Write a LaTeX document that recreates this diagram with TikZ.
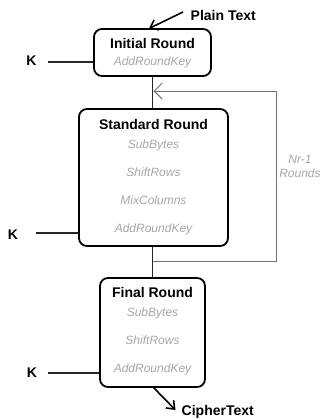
\documentclass[tikz,border=0pt]{standalone}
\usepackage{fontspec}
\setmainfont{Liberation Sans}
\usetikzlibrary{arrows.meta}
\definecolor{itemgray}{HTML}{A6A6A6}
\definecolor{loopgray}{HTML}{707070}
\tikzset{
  roundbox/.style={draw=black, line width=1.8bp, rounded corners=8bp, inner sep=0pt},
  titletext/.style={font=\bfseries\fontsize{14bp}{16bp}\selectfont, anchor=base, inner sep=0pt},
  itemtext/.style={font=\itshape\fontsize{12bp}{14bp}\selectfont, text=itemgray, anchor=base, inner sep=0pt},
  klabel/.style={font=\bfseries\fontsize{14bp}{16bp}\selectfont, inner sep=0pt},
  mainline/.style={draw=black!85, line width=1.8bp},
  loopline/.style={draw=loopgray, line width=1bp},
  inarrow/.style={draw=black, line width=1.6bp, -{Straight Barb[length=7bp,width=11bp]}}
}
\begin{document}
\begin{tikzpicture}[x=1bp,y=-1bp]
\useasboundingbox (0,0) rectangle (322,419);
% boxes
\node[roundbox, minimum width=117bp, minimum height=47bp] (init) at (152.5,52.5) {};
\node[roundbox, minimum width=149bp, minimum height=137bp] (std) at (153.5,177.5) {};
\node[roundbox, minimum width=105bp, minimum height=109bp] (fin) at (152.5,332.5) {};
% texts initial
\node[titletext] (initT) at (152.5,48) {Initial Round};
\node[itemtext] (initA) at (152.5,65) {AddRoundKey};
% texts standard
\node[titletext] (stdT) at (153.5,129) {Standard Round};
\node[itemtext] (stdS) at (153.5,148) {SubBytes};
\node[itemtext] (stdR) at (153.5,176) {ShiftRows};
\node[itemtext] (stdM) at (153.5,204) {MixColumns};
\node[itemtext] (stdA) at (153.5,232) {AddRoundKey};
% texts final
\node[titletext] (finT) at (152.5,297) {Final Round};
\node[itemtext] (finS) at (152.5,316) {SubBytes};
\node[itemtext] (finR) at (152.5,344) {ShiftRows};
\node[itemtext] (finA) at (152.5,372) {AddRoundKey};
% K labels and lines
\node[klabel] (k1) at (31.5,61) {K};
\node[klabel] (k2) at (13,235) {K};
\node[klabel] (k3) at (32,373) {K};
\coordinate (k1s) at (48,62);
\coordinate (k2s) at (36,233);
\coordinate (k3s) at (48,373);
\draw[mainline] (k1s) -- (k1s -| init.west);
\draw[mainline] (k2s) -- (k2s -| std.west);
\draw[mainline] (k3s) -- (k3s -| fin.west);
% main vertical connectors
\coordinate (c1) at (152.5,0);
\draw[mainline] (c1 |- init.south) -- (c1 |- std.north);
\draw[mainline] (c1 |- std.south) -- (c1 |- fin.north);
% loop
\coordinate (lb) at (152.5,261);
\coordinate (lbr) at (276.5,261);
\coordinate (ltr) at (276.5,91);
\coordinate (lt) at (153.5,91);
\draw[loopline, -{Straight Barb[length=8bp,width=16bp]}] (lb) -- (lbr) -- (ltr) -- (lt);
\node[itemtext, anchor=center, align=center] (nr) at (300,166) {Nr-1\\Rounds};
% plain text
\node[klabel, anchor=west] (pt) at (190.5,15) {Plain Text};
\coordinate (pts) at (183,12);
\coordinate (pte) at (149,28.5);
\draw[inarrow] (pts) -- (pte);
% cipher text
\node[klabel, anchor=west] (ct) at (181.5,412) {CipherText};
\coordinate (cts) at (153,387);
\coordinate (cte) at (175.5,410);
\draw[inarrow] (cts) -- (cte);
\end{tikzpicture}
\end{document}
